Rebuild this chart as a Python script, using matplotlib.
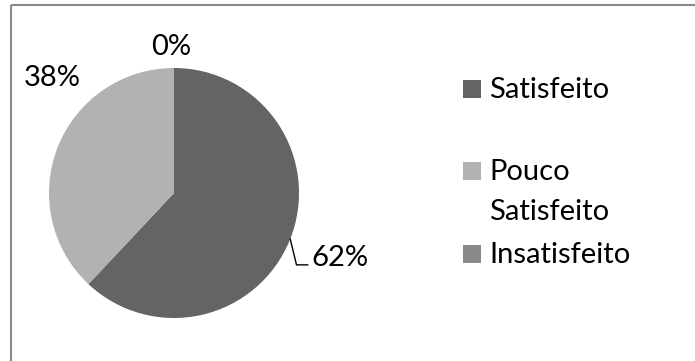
import numpy as np
import matplotlib
matplotlib.use("Agg")
import matplotlib.pyplot as plt
import matplotlib.patches as mpatches

# satisfaction survey shares (percent)
categorias = ['Satisfeito', 'Pouco\nSatisfeito', 'Insatisfeito']
percentuais = [62, 38, 0]
cores = ['#646464', '#b2b2b2', '#898989']

W, H = 695, 361
plt.rcParams['font.family'] = ['Lato', 'DejaVu Sans']
FS = 21


def px(x, y):
    # pixel position (from top left) -> figure fraction
    return x / W, 1 - y / H


fig = plt.figure(figsize=(W / 100, H / 100), dpi=100)

# outer frame of the chart area (right/bottom sides fall outside the image)
fig.patches.append(mpatches.Rectangle(px(11, 5), 1, -1, transform=fig.transFigure,
                                      fill=False, edgecolor='#888888', linewidth=1.5))

# pie: center at (174,193) px, radius 125 px
lim = 1.3
r_px = 125
size = 2 * lim * r_px
x0, y0 = px(174 - size / 2, 193 + size / 2)
ax = fig.add_axes([x0, y0, size / W, size / H])
wedges, _ = ax.pie(percentuais, colors=cores, startangle=90, counterclock=False,
                   radius=1, wedgeprops=dict(linewidth=0))
ax.set_xlim(-lim, lim)
ax.set_ylim(-lim, lim)
ax.set_aspect('equal')
ax.axis('off')

# percentage labels
ax.text(-0.02, 1.17, '%d%%' % percentuais[2], fontsize=FS, ha='center', va='center')
ax.text(-0.97, 0.92, '%d%%' % percentuais[1], fontsize=FS, ha='center', va='center')

# leader line for the large slice, starting at the middle of its arc
w = wedges[0]
ang = np.deg2rad((w.theta1 + w.theta2) / 2)
sx, sy = np.cos(ang), np.sin(ang)
ax.plot([sx, 0.98, 1.07], [sy, -0.575, -0.575], color='black', linewidth=1.0,
        clip_on=False)
ax.text(1.10, -0.52, '%d%%' % percentuais[0], fontsize=FS, ha='left', va='center')

# legend drawn by hand
baselines = [98, 180, 263]
for nome, cor, yb in zip(categorias, cores, baselines):
    fig.patches.append(mpatches.Rectangle(px(463, yb), 18 / W, 18 / H,
                                          transform=fig.transFigure,
                                          facecolor=cor, edgecolor='none'))
    linhas = nome.split('\n')
    for i, linha in enumerate(linhas):
        fig.text(*px(489, yb + 40 * i), linha, fontsize=FS, ha='left', va='baseline')

fig.savefig('out.png', dpi=100)
